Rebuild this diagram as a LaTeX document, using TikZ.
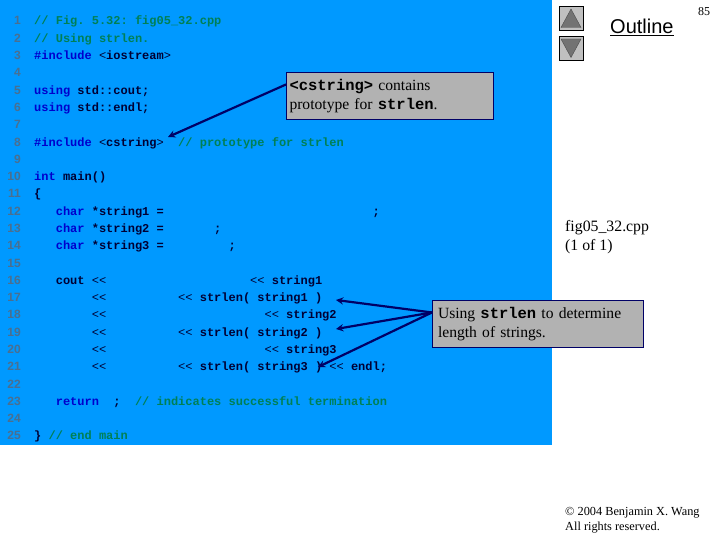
\documentclass[tikz,border=0pt]{standalone}
\usepackage{fontspec}
\setmainfont{Liberation Serif}
\setsansfont{Liberation Sans}
\setmonofont{Liberation Mono}
\usetikzlibrary{calc,arrows}
\definecolor{slidebg}{HTML}{0099FF}
\definecolor{kwblue}{HTML}{0000CC}
\definecolor{cmgreen}{HTML}{008055}
\definecolor{codenavy}{HTML}{000033}
\definecolor{linegray}{HTML}{4A6F90}
\definecolor{boxgray}{HTML}{B2B2B2}
\definecolor{btngray}{HTML}{C0C0C0}
\definecolor{arrownavy}{HTML}{000066}
\newcommand{\kw}[1]{\textcolor{kwblue}{#1}}
\newcommand{\cm}[1]{\textcolor{cmgreen}{#1}}
\newcommand{\gap}[1]{\hspace*{#1\dimexpr7.2pt\relax}}
\newcommand{\bt}[1]{{\ttfamily\bfseries\fontsize{15.5}{19}\selectfont #1}}
\newcommand{\shl}{{\mdseries<<}}
\tikzset{
  linenum/.style={anchor=base east,inner sep=0pt,text=linegray,font=\sffamily\bfseries\fontsize{12}{12}\selectfont},
  code/.style={anchor=base west,inner sep=0pt,text=codenavy,font=\ttfamily\bfseries\fontsize{12}{12}\selectfont},
  callout/.style={draw=arrownavy,fill=boxgray,line width=1pt,anchor=north west,inner xsep=3pt,inner ysep=0pt,
    minimum height=47pt,align=left,font=\fontsize{15.6}{19.5}\selectfont},
  side/.style={anchor=base west,inner sep=0pt,align=left},
  navbtn/.style={draw=black,fill=btngray,line width=.8pt,minimum size=24pt,inner sep=0pt},
  pointer/.style={draw=arrownavy,line width=2.2pt,-stealth}
}
\begin{document}
\begin{tikzpicture}[x=1pt,y=-1pt]
\useasboundingbox (0,0) rectangle (720,540);
\fill[slidebg] (0,0) rectangle (552,445);
% line numbers
\foreach \i in {1,...,25}
  \node[linenum] (n\i) at (21,{25+17.29*(\i-1)}) {\i};
% source code
\foreach \i/\txt in {
  1/{\cm{// Fig. 5.32: fig05\_32.cpp}},
  2/{\cm{// Using strlen.}},
  3/{\kw{\#include} {\mdseries<}iostream{\mdseries>}},
  5/{\kw{using} std::cout;},
  6/{\kw{using} std::endl;},
  8/{\kw{\#include} {\mdseries<}cstring{\mdseries>}\gap{2}\cm{// prototype for strlen}},
  10/{\kw{int} main()},
  11/{\{},
  12/{\gap{3}\kw{char} *string1 =\gap{29};},
  13/{\gap{3}\kw{char} *string2 =\gap{7};},
  14/{\gap{3}\kw{char} *string3 =\gap{9};},
  16/{\gap{3}cout \shl\gap{20}\shl{} string1},
  17/{\gap{8}\shl\gap{10}\shl{} strlen( string1 )},
  18/{\gap{8}\shl\gap{22}\shl{} string2},
  19/{\gap{8}\shl\gap{10}\shl{} strlen( string2 )},
  20/{\gap{8}\shl\gap{22}\shl{} string3},
  21/{\gap{8}\shl\gap{10}\shl{} strlen( string3 ) \shl{} endl;},
  23/{\gap{3}\kw{return}\gap{2};\gap{2}\cm{// indicates successful termination}},
  25/{\} \cm{// end main}}}
  \node[code] (c\i) at (34,{25+17.29*(\i-1)}) {\txt};
% callouts
\node[callout,text width=201pt] (cstringbox) at (286,72) {\bt{<cstring>} contains\\prototype for \bt{strlen}.};
\node[callout,inner xsep=5.5pt,text width=200pt] (strlenbox) at (432,300) {Using \bt{strlen} to determine\\length of strings.};
\coordinate (tipinclude) at (168,137);
\coordinate (tiplen1) at (336,300);
\coordinate (tiplen2) at (336,329);
\coordinate (tiplen3) at (318,367);
\coordinate (startlen) at ($(strlenbox.north west)!.26!(strlenbox.south west)$);
\draw[pointer] ($(cstringbox.north west)!.26!(cstringbox.south west)$) -- (tipinclude);
\draw[pointer] (startlen) -- (tiplen1);
\draw[pointer] (startlen) -- (tiplen2);
\draw[pointer] (startlen) -- (tiplen3);
% navigation
\node[navbtn] (btnup) at (571,18) {};
\node[navbtn] (btndown) at (571,48) {};
\fill[black!55,draw=black!70] (571,9) -- (581,27.5) -- (561,27.5) -- cycle;
\fill[black!55,draw=black!70] (561,39) -- (581,39) -- (571,57.5) -- cycle;
\node[side,font=\sffamily\fontsize{20}{20}\selectfont] (outline) at (610,34) {\underline{Outline}};
\node[side,font=\fontsize{12}{12}\selectfont] (pagenum) at (698,16) {85};
\node[side,font=\fontsize{15.8}{19}\selectfont] (figname) at (565,251) {fig05\_32.cpp\\(1 of 1)};
\node[side,font=\fontsize{12.3}{15}\selectfont] (rights) at (565,530) {\textcopyright{} 2004 Benjamin X. Wang\\All rights reserved.};
\end{tikzpicture}
\end{document}
